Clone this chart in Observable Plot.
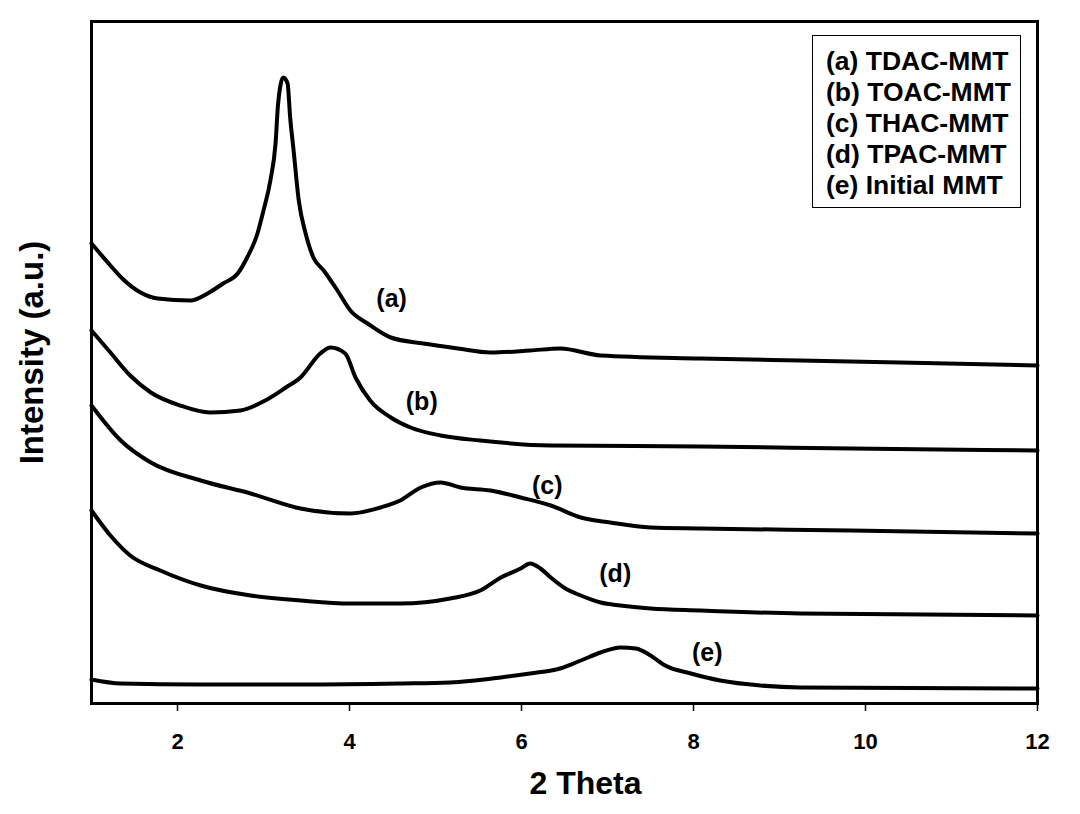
<!DOCTYPE html>
<html>
<head>
<meta charset="utf-8">
<script src="https://cdn.jsdelivr.net/npm/d3@7"></script>
<script src="https://cdn.jsdelivr.net/npm/@observablehq/plot@0.6"></script>
<style>
  html, body { margin: 0; padding: 0; background: #fff; }
  #wrap { position: relative; width: 1080px; height: 814px; font-family: "Liberation Sans", Arial, sans-serif; }
  #legend { position: absolute; left: 812px; top: 35px; width: 207px; height: 171px; border: 1px solid #000; background: #fff;
            box-sizing: content-box; padding: 0; font-weight: bold; font-size: 26.5px; line-height: 31px; color: #000; }
  #legend .inner { padding: 10px 0 0 13px; white-space: nowrap; }
</style>
</head>
<body>
<div id="wrap"></div>
<script>
// Series names (legend) and curve labels
const seriesKeys = ["a", "b", "c", "d", "e"];
const seriesNames = ["(a) TDAC-MMT", "(b) TOAC-MMT", "(c) THAC-MMT", "(d) TPAC-MMT", "(e) Initial MMT"];
const curveLabels = ["(a)", "(b)", "(c)", "(d)", "(e)"];
const xTicks = [2, 4, 6, 8, 10, 12];

// (a) TDAC-MMT
const aTheta = [1.0,1.22,1.37,1.57,1.77,2.15,2.35,2.53,2.70,2.81,2.93,3.00,3.08,3.14,3.17,3.23,3.28,3.31,3.35,3.41,3.49,3.58,3.70,3.86,4.01,4.21,4.48,4.86,5.26,5.64,6.10,6.45,6.92,8.08,9.24,10.4,12];
const aInt   = [460,438,424,411,405,403,410,420,430,446,470,493,523,560,600,626,620,586,553,503,470,446,433,413,393,380,366,360,355,351,353,355,348,345,343,341,338];
// (b) TOAC-MMT
const bTheta = [1.0,1.22,1.45,1.69,2.03,2.38,2.73,3.02,3.26,3.43,3.66,3.78,3.95,4.07,4.24,4.48,4.71,5.06,5.52,6.34,8.08,9.83,12];
const bInt   = [373,351,328,311,298,291,293,303,316,326,350,356,350,326,303,286,276,268,263,258,257,255,253];
// (c) THAC-MMT
const cTheta = [1.0,1.34,1.69,2.27,2.85,3.43,4.01,4.36,4.59,4.83,5.06,5.29,5.64,5.99,6.34,6.69,7.03,7.50,8.08,9.83,12];
const cInt   = [298,263,241,223,210,195,190,196,203,216,221,216,213,206,198,186,181,176,175,173,170];
// (d) TPAC-MMT
const dTheta = [1.0,1.22,1.45,1.80,2.27,2.85,3.43,4.01,4.59,5.17,5.52,5.76,5.99,6.10,6.22,6.34,6.51,6.69,6.92,7.15,7.50,8.08,9.24,12];
const dInt   = [193,168,148,133,118,108,103,100,100,105,113,126,135,140,135,126,115,108,101,98,95,93,90,88];
// (e) Initial MMT
const eTheta = [1.0,1.34,2.27,3.43,4.59,5.17,5.76,6.10,6.45,6.69,6.92,7.15,7.33,7.50,7.67,7.97,8.31,8.78,9.24,12];
const eInt   = [24,20,19,19,20,21,26,30,35,43,51,56,55,48,38,30,23,18,16,15];

// Curve label anchor points (2θ, intensity)
const labelTheta = [4.49, 4.84, 6.30, 7.09, 8.16];
const labelInt   = [405, 302, 218, 130, 51];

const thetas = [aTheta, bTheta, cTheta, dTheta, eTheta];
const ints = [aInt, bInt, cInt, dInt, eInt];
const data = seriesKeys.flatMap((k, i) => thetas[i].map((t, j) => ({series: k, theta: t, intensity: ints[i][j]})));
const labels = curveLabels.map((l, i) => ({label: l, theta: labelTheta[i], intensity: labelInt[i]}));

const font = "Liberation Sans, Arial, sans-serif";
const chart = Plot.plot({
  width: 1080,
  height: 814,
  marginLeft: 91,
  marginRight: 43,
  marginTop: 21,
  marginBottom: 111,
  style: {fontFamily: font, background: "#fff", color: "#000", overflow: "visible", fontSize: "22px"},
  x: {domain: [1, 12]},
  y: {domain: [0, 682], axis: null},
  marks: [
    Plot.line(data, {x: "theta", y: "intensity", z: "series", stroke: "#000", strokeWidth: 4, curve: "monotone-x"}),
    Plot.frame({stroke: "#000", strokeWidth: 3}),
    Plot.axisX({ticks: xTicks, tickSize: 8, tickPadding: 22, tickFormat: d => String(d), fontSize: 22, fontWeight: "bold", label: null, strokeWidth: 1.5}),
    Plot.text(labels, {x: "theta", y: "intensity", text: "label", fontSize: 25, fontWeight: "bold", fill: "#000"}),
    Plot.text(["2 Theta"], {frameAnchor: "bottom", dx: 21, dy: 90, fontSize: 32, fontWeight: "bold", fill: "#000"}),
    Plot.text(["Intensity (a.u.)"], {frameAnchor: "left", textAnchor: "middle", dx: -59, dy: -10, rotate: -90, fontSize: 33, fontWeight: "bold", fill: "#000"})
  ]
});
// make sure the tick labels are large and bold
d3.select(chart).selectAll("text")
  .filter(function () { return /^\d+$/.test(this.textContent.trim()); })
  .style("font-size", "22px").style("font-weight", "bold");
const wrap = document.getElementById("wrap");
wrap.appendChild(chart);
const legend = document.createElement("div");
legend.id = "legend";
const inner = document.createElement("div");
inner.className = "inner";
seriesNames.forEach(n => { const d = document.createElement("div"); d.textContent = n; inner.appendChild(d); });
legend.appendChild(inner);
wrap.appendChild(legend);
</script>
</body>
</html>
